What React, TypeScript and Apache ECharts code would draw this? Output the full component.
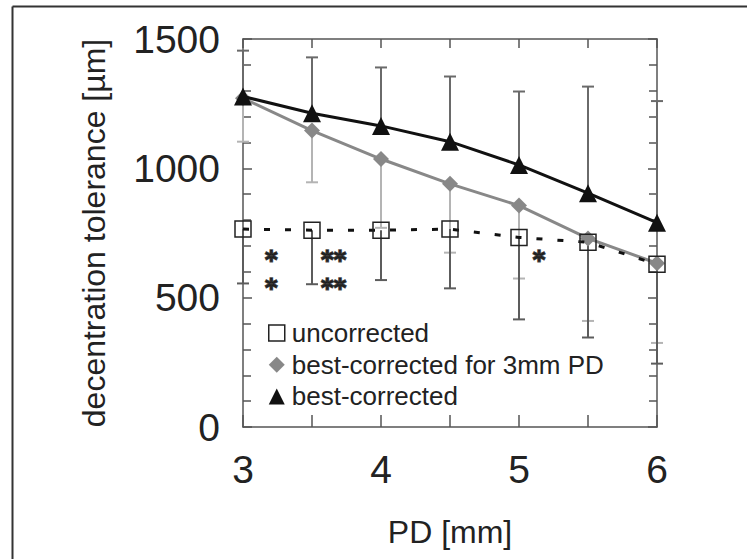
import React, { useEffect, useRef } from "react";
import * as echarts from "echarts";

// Pupil diameter (mm)
const pd = [3, 3.5, 4, 4.5, 5, 5.5, 6];

// Mean decentration tolerance (µm) per correction condition
const uncorrected = [765, 761, 761, 765, 733, 714, 629];
const bestCorrected3mm = [1271, 1146, 1036, 940, 856, 729, 633];
const bestCorrected = [1278, 1213, 1164, 1103, 1013, 904, 790];

// One-sided error bar ends (µm)
const uncorrectedLower = [555, 552, 568, 536, 416, 346, 245];
const bestCorrected3mmLower = [1103, 946, 770, 674, 574, 410, 325];
const bestCorrectedUpper = [1455, 1429, 1390, 1355, 1297, 1316, 1260];

// Significance markers
const starX = [3.205, 3.205, 3.657, 3.657, 5.145];
const starY = [669, 560, 669, 560, 669];
const starText = ["*", "*", "**", "**", "*"];

const yTicks = [0, 500, 1000, 1500];
const xTicks = [3, 4, 5, 6];

const FONT = "'Liberation Sans', Arial, Helvetica, sans-serif";
const AXIS = "#555";

function errorBars(name: string, means: number[], ends: number[], color: string) {
  return {
    type: "custom",
    name,
    z: 1,
    silent: true,
    data: pd.map((x, i) => [x, means[i], ends[i]]),
    renderItem: (_params: any, api: any) => {
      const x = api.value(0);
      const a = api.coord([x, api.value(1)]);
      const b = api.coord([x, api.value(2)]);
      const w = 6;
      return {
        type: "group",
        children: [
          {
            type: "line",
            shape: { x1: a[0], y1: a[1], x2: b[0], y2: b[1] },
            style: { stroke: color, lineWidth: 2 },
          },
          {
            type: "line",
            shape: { x1: b[0] - w, y1: b[1], x2: b[0] + w, y2: b[1] },
            style: { stroke: color, lineWidth: 2 },
          },
        ],
      };
    },
  };
}

export default function App() {
  const ref = useRef<HTMLDivElement>(null);

  useEffect(() => {
    if (!ref.current) return;
    const chart = echarts.init(ref.current, null, { renderer: "svg" });

    const axisCommon = {
      axisLine: { show: true, onZero: false, lineStyle: { color: AXIS, width: 1.5 } },
      splitLine: { show: false },
    };
    const tick = (length: number) => ({
      show: true,
      inside: true,
      length,
      lineStyle: { color: AXIS, width: 1.5 },
    });

    chart.setOption({
      animation: false,
      backgroundColor: "#fff",
      textStyle: { fontFamily: FONT },
      grid: { left: 243, right: 90, top: 39, bottom: 132, containLabel: false },
      graphic: [
        {
          type: "line",
          shape: { x1: 12.5, y1: 6.5, x2: 747, y2: 6.5 },
          style: { stroke: "#333", lineWidth: 2 },
        },
        {
          type: "line",
          shape: { x1: 12.5, y1: 6.5, x2: 12.5, y2: 559 },
          style: { stroke: "#333", lineWidth: 2 },
        },
      ],
      legend: {
        orient: "vertical",
        left: 268,
        top: 320,
        padding: 0,
        itemWidth: 16,
        itemHeight: 16,
        itemGap: 5.7,
        selectedMode: false,
        textStyle: {
          fontSize: 26,
          lineHeight: 26,
          color: "#222",
          fontFamily: FONT,
          padding: [0, 0, 0, 2],
        },
        data: [
          {
            name: "uncorrected",
            icon: "rect",
            itemStyle: { color: "#fff", borderColor: "#222", borderWidth: 1.5 },
          },
          { name: "best-corrected for 3mm PD", icon: "diamond", itemStyle: { color: "#888" } },
          { name: "best-corrected", icon: "triangle", itemStyle: { color: "#111" } },
        ],
      },
      xAxis: [
        {
          type: "value",
          min: 3,
          max: 6,
          interval: 1,
          position: "bottom",
          name: "PD [mm]",
          nameLocation: "middle",
          nameGap: 89,
          nameTextStyle: { fontSize: 32, color: "#222", fontFamily: FONT },
          ...axisCommon,
          axisTick: tick(12),
          minorTick: { ...tick(12), splitNumber: 2 },
          axisLabel: {
            fontSize: 39,
            color: "#222",
            margin: 23,
            formatter: (v: number) => (xTicks.includes(v) ? String(v) : ""),
          },
        },
        {
          type: "value",
          min: 3,
          max: 6,
          interval: 1,
          position: "top",
          ...axisCommon,
          axisTick: tick(9),
          minorTick: { ...tick(9), splitNumber: 2 },
          axisLabel: { show: false },
        },
      ],
      yAxis: [
        {
          type: "value",
          min: 0,
          max: 1500,
          interval: 500,
          position: "left",
          name: "decentration tolerance [µm]",
          nameLocation: "middle",
          nameGap: 133,
          nameTextStyle: { fontSize: 32, color: "#222", fontFamily: FONT },
          ...axisCommon,
          axisTick: tick(9),
          minorTick: { ...tick(8), splitNumber: 5 },
          axisLabel: {
            fontSize: 39,
            color: "#222",
            margin: 23,
            formatter: (v: number) => (yTicks.includes(v) ? String(v) : ""),
          },
        },
        {
          type: "value",
          min: 0,
          max: 1500,
          interval: 500,
          position: "right",
          ...axisCommon,
          axisTick: tick(9),
          minorTick: { ...tick(8), splitNumber: 5 },
          axisLabel: { show: false },
        },
      ],
      series: [
        errorBars("best-corrected SD", bestCorrected, bestCorrectedUpper, "#6a6a6a"),
        errorBars("best-corrected for 3mm PD SD", bestCorrected3mm, bestCorrected3mmLower, "#b4b4b4"),
        errorBars("uncorrected SD", uncorrected, uncorrectedLower, "#5c5c5c"),
        {
          type: "line",
          name: "best-corrected for 3mm PD",
          z: 3,
          data: pd.map((x, i) => [x, bestCorrected3mm[i]]),
          symbol: "diamond",
          symbolSize: 16,
          itemStyle: { color: "#888" },
          lineStyle: { color: "#888", width: 3 },
          clip: false,
        },
        {
          type: "line",
          name: "best-corrected",
          z: 4,
          data: pd.map((x, i) => [x, bestCorrected[i]]),
          symbol: "triangle",
          symbolSize: 18,
          itemStyle: { color: "#111" },
          lineStyle: { color: "#111", width: 3 },
          clip: false,
        },
        {
          type: "line",
          name: "uncorrected",
          z: 5,
          data: pd.map((x, i) => [x, uncorrected[i]]),
          symbol: "rect",
          symbolSize: 16,
          itemStyle: { color: "rgba(0,0,0,0)", borderColor: "#222", borderWidth: 1.5 },
          lineStyle: { color: "#111", width: 3, type: [6, 15] },
          clip: false,
        },
        {
          type: "scatter",
          name: "significance",
          z: 6,
          silent: true,
          symbolSize: 0,
          data: starX.map((x, i) => ({ value: [x, starY[i]], label: { formatter: starText[i] } })),
          label: {
            show: true,
            position: "inside",
            fontSize: 24,
            lineHeight: 24,
            fontWeight: "bold",
            fontFamily: "'DejaVu Sans', sans-serif",
            color: "#111",
            textBorderColor: "#111",
            textBorderWidth: 1.6,
            offset: [0, 6],
          },
        },
      ],
    });

    return () => chart.dispose();
  }, []);

  return (
    <div
      ref={ref}
      style={{ position: "fixed", left: 0, top: 0, width: 747, height: 559 }}
    />
  );
}
